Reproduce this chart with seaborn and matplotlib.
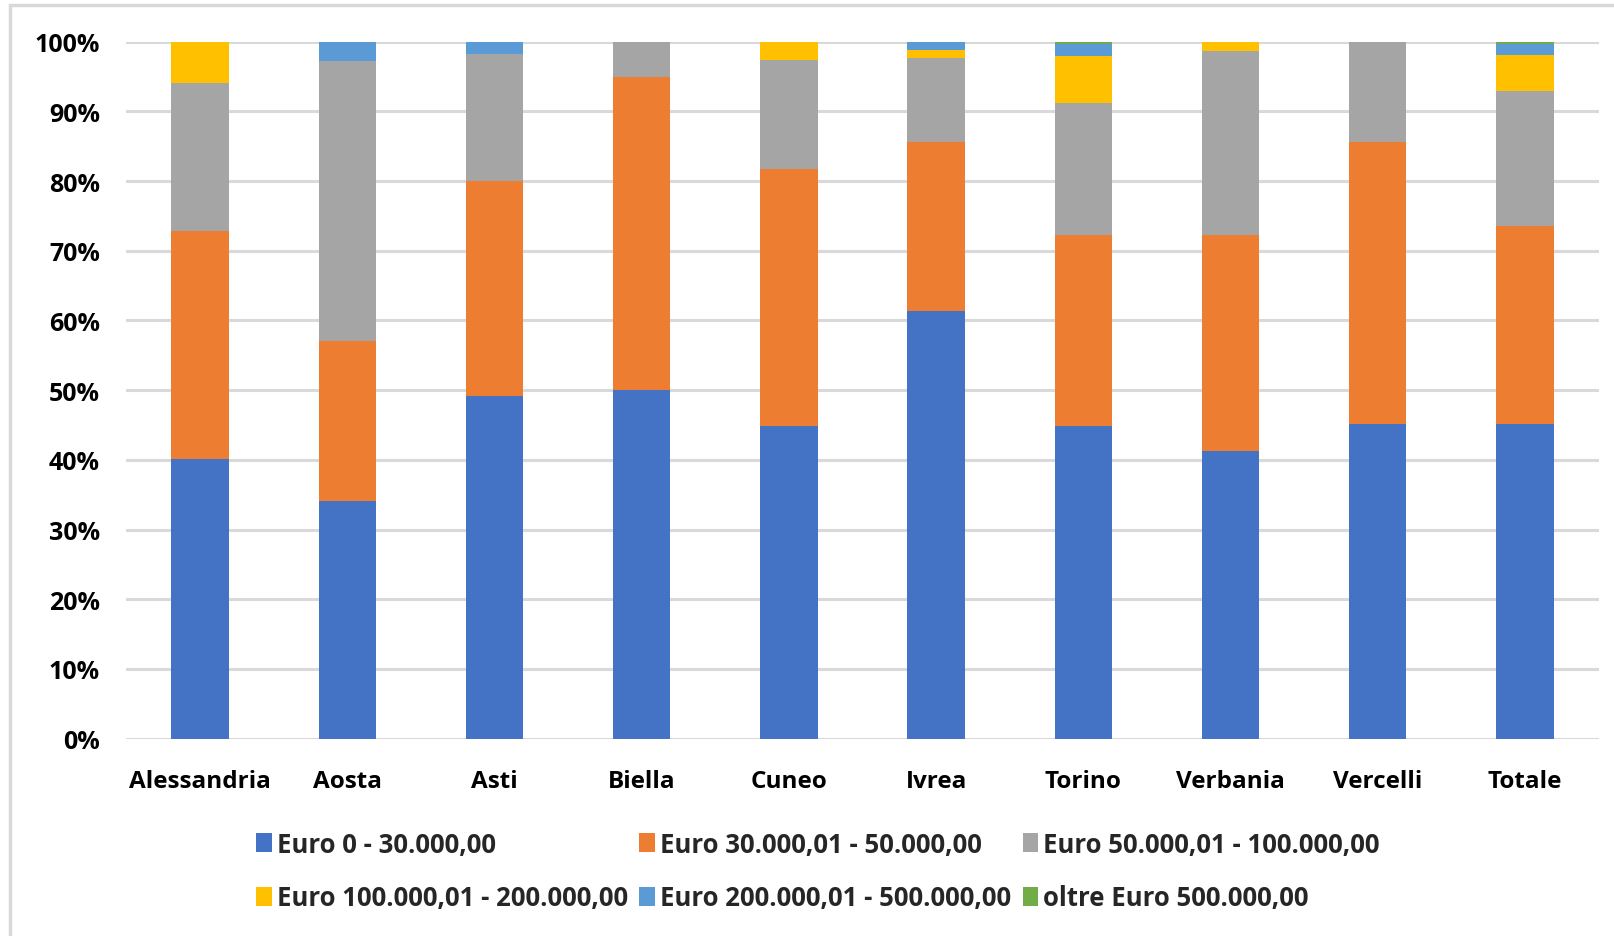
import matplotlib
matplotlib.use("Agg")
import matplotlib.pyplot as plt
import seaborn as sns
import pandas as pd
import numpy as np
from matplotlib.patches import Rectangle
from matplotlib.ticker import PercentFormatter

categories = ["Alessandria", "Aosta", "Asti", "Biella", "Cuneo", "Ivrea",
              "Torino", "Verbania", "Vercelli", "Totale"]
series_names = ["Euro 0 - 30.000,00", "Euro 30.000,01 - 50.000,00",
                "Euro 50.000,01 - 100.000,00", "Euro 100.000,01 - 200.000,00",
                "Euro 200.000,01 - 500.000,00", "oltre Euro 500.000,00"]
s_0_30 = [40.1, 34.1, 49.2, 50.0, 44.8, 61.3, 44.8, 41.2, 45.2, 45.2]
s_30_50 = [32.8, 22.9, 30.8, 45.0, 36.9, 24.3, 27.4, 31.0, 40.4, 28.4]
s_50_100 = [21.2, 40.2, 18.3, 5.0, 15.7, 12.0, 19.05, 26.4, 14.4, 19.3]
s_100_200 = [5.9, 0.0, 0.0, 0.0, 2.6, 1.2, 6.65, 1.4, 0.0, 5.2]
s_200_500 = [0.0, 2.8, 1.7, 0.0, 0.0, 1.2, 1.8, 0.0, 0.0, 1.6]
s_oltre = [0.0, 0.0, 0.0, 0.0, 0.0, 0.0, 0.3, 0.0, 0.0, 0.3]
yticks = [0, 10, 20, 30, 40, 50, 60, 70, 80, 90, 100]
colors = ["#4472C4", "#ED7D31", "#A5A5A5", "#FFC000", "#5B9BD5", "#70AD47"]

series = [s_0_30, s_30_50, s_50_100, s_100_200, s_200_500, s_oltre]
df = pd.DataFrame({name: vals for name, vals in zip(series_names, series)}, index=categories)
df = df.div(df.sum(axis=1), axis=0) * 100
cum = df.cumsum(axis=1)

sns.set_theme(style="white")
plt.rcParams['font.family'] = ['Open Sans', 'DejaVu Sans']

W, H = 1615, 937
fig = plt.figure(figsize=(W / 100, H / 100), dpi=100)
ax = fig.add_axes([126.4 / W, 1 - 739.6 / H, (1598.6 - 126.4) / W, (739.6 - 42.7) / H])

for name, col in reversed(list(zip(series_names, colors))):
    sns.barplot(x=categories, y=cum[name].values, color=col, ax=ax,
                width=0.39, saturation=1, label=name, zorder=2,
                linewidth=0, legend=False)
if ax.get_legend() is not None:
    ax.get_legend().remove()

ax.set_ylim(0, 100)
ax.set_xlim(-0.5, len(categories) - 0.5)
ax.set_yticks(yticks)
ax.yaxis.set_major_formatter(PercentFormatter(decimals=0))
ax.grid(axis="y", color="#D9D9D9", linewidth=2.2, zorder=0)
ax.set_axisbelow(True)
for sp in ax.spines.values():
    sp.set_visible(False)
ax.tick_params(axis="y", length=0, pad=19, labelsize=18)
ax.tick_params(axis="x", length=0, pad=22, labelsize=17.5)
for lab in ax.get_xticklabels() + ax.get_yticklabels():
    lab.set_fontweight("bold")
    lab.set_color("#000000")
ax.set_xlabel("")
ax.set_ylabel("")

handles, labels = ax.get_legend_handles_labels()
idx = [labels.index(n) for n in series_names]
order = [idx[0], idx[3], idx[1], idx[4], idx[2], idx[5]]
handles = [handles[i] for i in order]
labels = [labels[i] for i in order]
leg = fig.legend(handles, labels, ncol=3, loc="center", bbox_to_anchor=(818 / W, 1 - 872 / H),
                 frameon=False, prop={"weight": "bold", "size": 18.5},
                 handlelength=0.6, handleheight=0.8, handletextpad=0.2,
                 columnspacing=0.45, labelspacing=1.05)

fig.patches.append(Rectangle((10 / W, -0.1), 1.2, 1 - 6 / H + 0.1, transform=fig.transFigure,
                             fill=False, edgecolor="#D9D9D9", linewidth=2.5))

fig.savefig("out.png", dpi=100)
